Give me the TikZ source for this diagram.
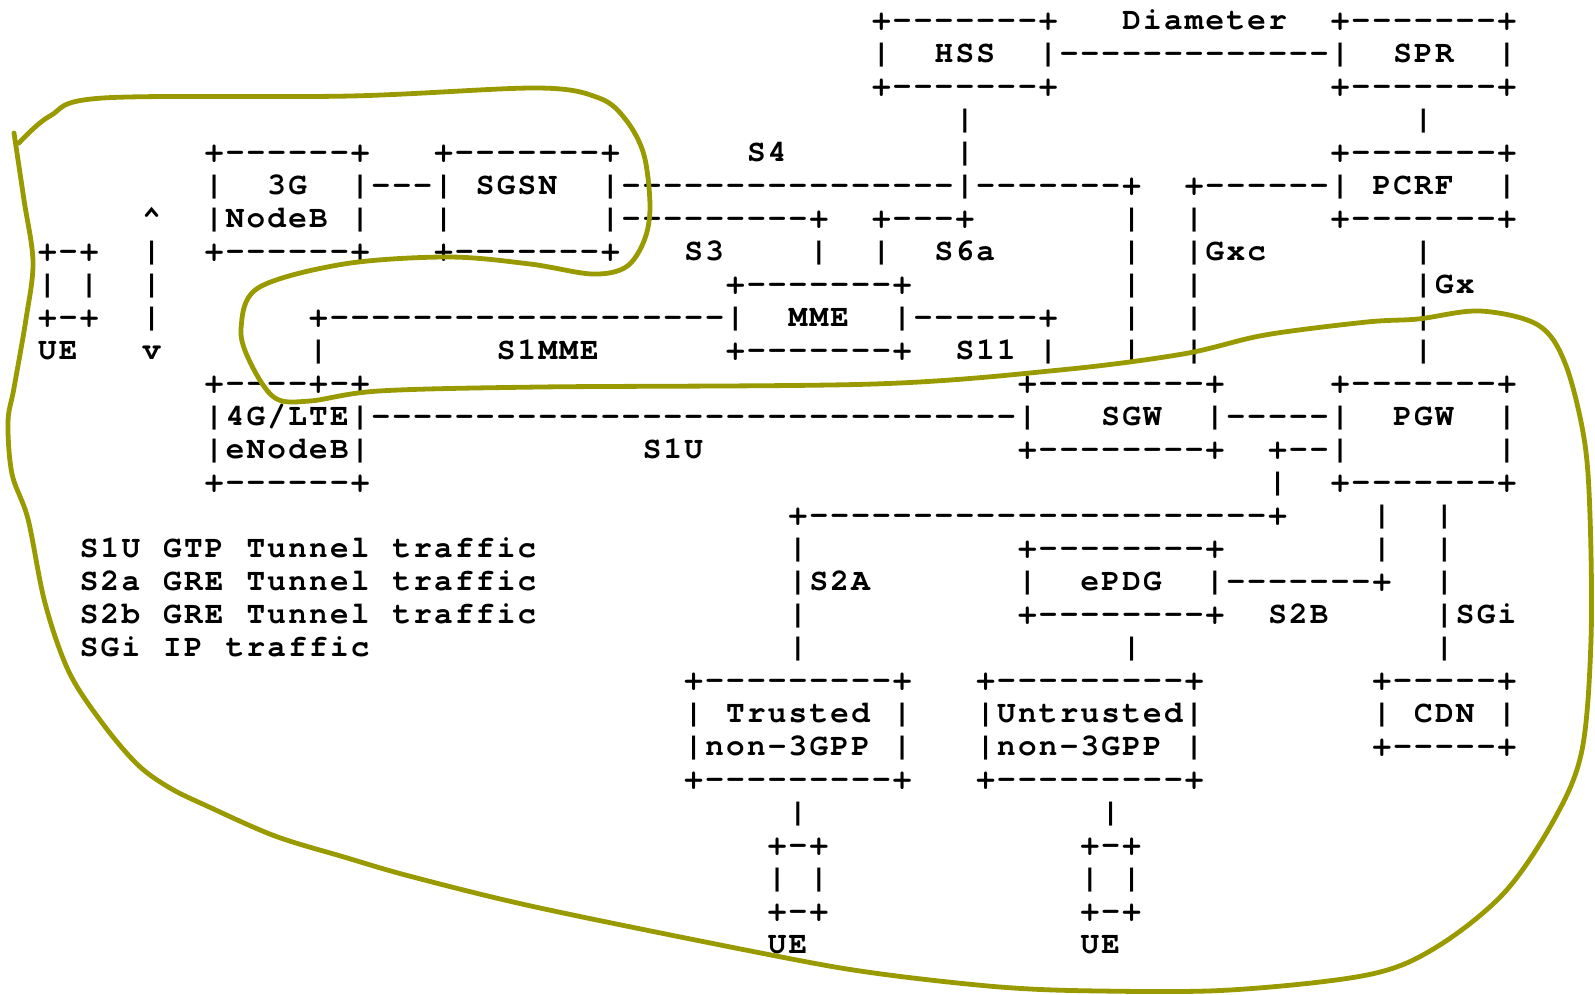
\documentclass[tikz,border=0pt]{standalone}
\usepackage{fontspec}
\newfontfamily\asciifont{texgyrecursor-bold.otf}
\definecolor{PenOlive}{RGB}{153,153,0}

% one character cell of the ASCII art
\newlength\cellw
\setlength\cellw{10.425pt}
\newcommand\caret{\textasciicircum}
\newcommand\cells[1]{\asciicell#1\relax}
\newcommand\asciicell[1]{\ifx\relax#1\else\makebox[\cellw][c]{\ifx.#1\else#1\fi}\expandafter\asciicell\fi}

\begin{document}
\begin{tikzpicture}[x=0.5pt, y=-0.5pt,
    ascii/.style={anchor=base west, inner sep=0pt, yshift=-4.4pt,
                  font=\asciifont\fontsize{15.5}{18}\selectfont},
    pen/.style={draw=PenOlive, line width=2.4pt, line cap=round, line join=round}
]
  \useasboundingbox (0,0) rectangle (1595,995);

  \begin{scope}[shift={(36.6,20.5)}, x=\cellw, y=-16.5pt]
    % HSS, Diameter, SPR
    \node[ascii] (hssTop) at (40,0) {\cells{+-------+}};
    \node[ascii] (diameter) at (52,0) {\cells{Diameter}};
    \node[ascii] (sprTop) at (62,0) {\cells{+-------+}};
    \node[ascii] (hss) at (40,1) {\cells{|..HSS..|-------------|..SPR..|}};
    \node[ascii] (hssBot) at (40,2) {\cells{+-------+}};
    \node[ascii] (sprBot) at (62,2) {\cells{+-------+}};
    \foreach \r in {3,4} \node[ascii] (hssLink\r) at (44,\r) {\cells{|}};
    \node[ascii] (sprLink) at (66,3) {\cells{|}};
    % 3G NodeB, SGSN, PCRF
    \node[ascii] (nodebTop) at (8,4) {\cells{+------+...+-------+}};
    \node[ascii] (sFour) at (34,4) {\cells{S4}};
    \node[ascii] (pcrfTop) at (62,4) {\cells{+-------+}};
    \node[ascii] (nodeb) at (8,5) {\cells{|..3G..|---|.SGSN..|----------------|-------+}};
    \node[ascii] (pcrf) at (55,5) {\cells{+------|.PCRF..|}};
    \node[ascii] (upArrow) at (5,6) {\cells{\caret}};
    \node[ascii] (nodebMid) at (8,6) {\cells{|NodeB.|...|.......|---------+..+---+}};
    \node[ascii] (pcrfBot) at (62,6) {\cells{+-------+}};
    \foreach \r in {6,8,9,10} \node[ascii] (sgwUp\r) at (52,\r) {\cells{|..|}};
    \node[ascii] (gxc) at (52,7) {\cells{|..|Gxc}};
    \node[ascii] (nodebBot) at (0,7) {\cells{+-+..|..+------+...+-------+...S3....|..|..S6a}};
    \foreach \r in {7,9,10} \node[ascii] (gxLink\r) at (66,\r) {\cells{|}};
    \node[ascii] (gx) at (66,8) {\cells{|Gx}};
    % UE, MME
    \node[ascii] (ueMid) at (0,8) {\cells{|.|..|}};
    \node[ascii] (mmeTop) at (33,8) {\cells{+-------+}};
    \node[ascii] (ueBot) at (0,9) {\cells{+-+..|}};
    \node[ascii] (mme) at (13,9) {\cells{+-------------------|..MME..|------+}};
    \node[ascii] (ue) at (0,10) {\cells{UE...v}};
    \node[ascii] (sOneMmeBar) at (13,10) {\cells{|}};
    \node[ascii] (sOneMme) at (22,10) {\cells{S1MME}};
    \node[ascii] (mmeBot) at (33,10) {\cells{+-------+..S11.|}};
    % eNodeB, SGW, PGW
    \node[ascii] (enbTop) at (8,11) {\cells{+----+-+}};
    \node[ascii] (sgwTop) at (47,11) {\cells{+--------+}};
    \node[ascii] (pgwTop) at (62,11) {\cells{+-------+}};
    \node[ascii] (enb) at (8,12) {\cells{|4G/LTE|-------------------------------|...SGW..|-----|..PGW..|}};
    \node[ascii] (enbMid) at (8,13) {\cells{|eNodeB|}};
    \node[ascii] (sOneU) at (29,13) {\cells{S1U}};
    \node[ascii] (sgwBot) at (47,13) {\cells{+--------+..+--|}};
    \node[ascii] (pgwMid) at (70,13) {\cells{|}};
    \node[ascii] (enbBot) at (8,14) {\cells{+------+}};
    \node[ascii] (pgwBot) at (59,14) {\cells{|..+-------+}};
    % S2A, ePDG, SGi and the legend
    \node[ascii] (sTwoA) at (36,15) {\cells{+----------------------+....|..|}};
    \node[ascii] (legendA) at (2,16) {\cells{S1U.GTP.Tunnel.traffic}};
    \node[ascii] (legendB) at (2,17) {\cells{S2a.GRE.Tunnel.traffic}};
    \node[ascii] (legendC) at (2,18) {\cells{S2b.GRE.Tunnel.traffic}};
    \node[ascii] (legendD) at (2,19) {\cells{SGi.IP.traffic}};
    \foreach \r in {16,18,19} \node[ascii] (sTwoABar\r) at (36,\r) {\cells{|}};
    \node[ascii] (sTwoALabel) at (36,17) {\cells{|S2A}};
    \node[ascii] (epdgTop) at (47,16) {\cells{+--------+}};
    \node[ascii] (sgiUp) at (64,16) {\cells{|..|}};
    \node[ascii] (epdg) at (47,17) {\cells{|..ePDG..|-------+..|}};
    \node[ascii] (epdgBot) at (47,18) {\cells{+--------+..S2B}};
    \node[ascii] (sgi) at (67,18) {\cells{|SGi}};
    \node[ascii] (epdgLink) at (52,19) {\cells{|}};
    \node[ascii] (sgiLink) at (67,19) {\cells{|}};
    % non-3GPP access and CDN
    \node[ascii] (accessTop) at (31,20) {\cells{+---------+...+---------+}};
    \node[ascii] (cdnTop) at (64,20) {\cells{+-----+}};
    \node[ascii] (access) at (31,21) {\cells{|.Trusted.|...|Untrusted|}};
    \node[ascii] (cdn) at (64,21) {\cells{|.CDN.|}};
    \node[ascii] (accessMid) at (31,22) {\cells{|non-3GPP.|...|non-3GPP.|}};
    \node[ascii] (cdnBot) at (64,22) {\cells{+-----+}};
    \node[ascii] (accessBot) at (31,23) {\cells{+---------+...+---------+}};
    % UEs below
    \node[ascii] (ueLink) at (36,24) {\cells{|..............|}};
    \node[ascii] (ueTwoTop) at (35,25) {\cells{+-+............+-+}};
    \node[ascii] (ueTwoMid) at (35,26) {\cells{|.|............|.|}};
    \node[ascii] (ueTwoBot) at (35,27) {\cells{+-+............+-+}};
    \node[ascii] (ueTwo) at (35,28) {\cells{UE.............UE}};
  \end{scope}

  % hand-drawn loop
  \draw[pen] plot[smooth, tension=0.55] coordinates {
    (14,133) (24,200) (33,262) (26,319) (14,388) (8,422) (12,474) (28,519)
    (45,603) (69,672) (103,724) (138,765) (170,788) (207,806) (275,836)
    (344,857) (413,877) (540,908) (771,955) (874,973) (1000,987) (1100,991)
    (1230,990) (1367,975) (1435,948) (1504,893) (1555,818) (1582,750)
    (1591,640) (1590,516) (1584,438) (1565,363) (1538,325) (1480,311)
    (1418,319) (1367,322) (1265,335) (1183,354) (1060,370) (874,384)
    (540,387) (379,391) (310,401) (275,398) (251,364) (241,329) (258,288)
    (344,264) (448,257) (530,264) (592,274) (626,267) (644,241) (650,207)
    (644,155) (626,120) (599,98) (537,88) (351,96) (103,98) (50,116) (19,143)};
\end{tikzpicture}
\end{document}
